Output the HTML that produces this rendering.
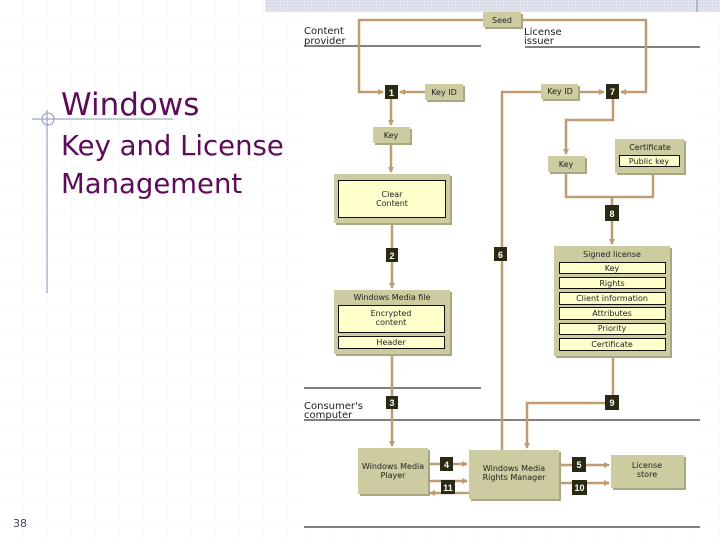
<!DOCTYPE html>
<html><head><meta charset="utf-8"><style>
html,body{margin:0;padding:0;background:#fff;}
svg{display:block;}
.t{font-family:"DejaVu Sans","Liberation Sans",sans-serif;font-size:8px;fill:#222;text-anchor:middle;}
.n{font-family:"Liberation Sans",sans-serif;font-size:9px;font-weight:bold;fill:#fff;text-anchor:middle;}
.lb{font-family:"DejaVu Sans","Liberation Sans",sans-serif;font-size:10px;fill:#222;}
.ln{stroke:#c09c74;stroke-width:2.5;fill:none;}
</style></head><body>
<svg width="720" height="540" viewBox="0 0 720 540" xmlns="http://www.w3.org/2000/svg">
<defs>
<pattern id="g" width="24" height="24" patternUnits="userSpaceOnUse" x="0" y="0">
<path d="M24 0V24M0 24H24" stroke="#dcdcdc" stroke-width="1" stroke-dasharray="1,2" fill="none"/>
</pattern>
<pattern id="h" width="3" height="3" patternUnits="userSpaceOnUse">
<rect width="3" height="3" fill="#dfe3ec"/><rect width="1" height="1" fill="#c4cad8"/>
</pattern>
<marker id="a" markerWidth="6" markerHeight="6" refX="5" refY="3" orient="auto" markerUnits="userSpaceOnUse"><path d="M0,0L6,3L0,6z" fill="#c09c74"/></marker>
</defs>
<rect width="720" height="540" fill="url(#g)"/>
<rect x="265" y="0" width="455" height="12" fill="url(#h)"/>
<line x1="697" y1="0" x2="697" y2="12" stroke="#8890b0"/>
<rect x="300" y="12" width="400" height="520" fill="#fff"/>

<line x1="47" y1="110" x2="47" y2="293" stroke="#8a98c0" stroke-width="1"/>
<line x1="32" y1="119" x2="173" y2="119" stroke="#8a98c0" stroke-width="1"/>
<circle cx="48" cy="119" r="6" fill="none" stroke="#8a98c0"/>
<text x="61" y="115" font-family="DejaVu Sans,Liberation Sans,sans-serif" font-size="31" fill="#5c0c58">Windows</text>
<text x="61" y="155" font-family="DejaVu Sans,Liberation Sans,sans-serif" font-size="27.5" fill="#5c0c58">Key and License</text>
<text x="61" y="193" font-family="DejaVu Sans,Liberation Sans,sans-serif" font-size="27.5" fill="#5c0c58">Management</text>
<text x="13" y="527" font-family="DejaVu Sans,sans-serif" font-size="11" fill="#445">38</text>

<line x1="304" y1="46" x2="481" y2="46" stroke="#000"/>
<line x1="525" y1="47" x2="700" y2="47" stroke="#000"/>
<line x1="304" y1="388" x2="481" y2="388" stroke="#000"/>
<line x1="304" y1="420" x2="700" y2="420" stroke="#000"/>
<line x1="304" y1="527" x2="700" y2="527" stroke="#000"/>
<text class="lb" x="304" y="34">Content</text><text class="lb" x="304" y="44">provider</text>
<text class="lb" x="524" y="35">License</text><text class="lb" x="524" y="44" font-size="8">issuer</text>
<text class="lb" x="304" y="409">Consumer's</text><text class="lb" x="304" y="418">computer</text>

<polyline class="ln" points="483,20 359,20 359,92 383,92" marker-end="url(#a)"/>
<line class="ln" x1="425" y1="92" x2="400" y2="92" marker-end="url(#a)"/>
<polyline class="ln" points="521,20 646,20 646,92 621,92" marker-end="url(#a)"/>
<line class="ln" x1="578" y1="92" x2="604" y2="92" marker-end="url(#a)"/>
<polyline class="ln" points="541,92 502,92 502,450"/>
<line class="ln" x1="391" y1="99" x2="391" y2="125" marker-end="url(#a)"/>
<line class="ln" x1="391" y1="143" x2="391" y2="172" marker-end="url(#a)"/>
<polyline class="ln" points="613,99 613,120 566,120 566,154" marker-end="url(#a)"/>
<polyline class="ln" points="566,172 566,197 653,197 653,173"/>
<line class="ln" x1="612" y1="197" x2="612" y2="244" marker-end="url(#a)"/>
<line class="ln" x1="392" y1="223" x2="392" y2="288" marker-end="url(#a)"/>
<line class="ln" x1="392" y1="354" x2="392" y2="446" marker-end="url(#a)"/>
<polyline class="ln" points="613,356 613,403 527,403 527,448" marker-end="url(#a)"/>
<line class="ln" x1="428" y1="464" x2="467" y2="464" marker-end="url(#a)"/>
<line class="ln" x1="428" y1="481" x2="467" y2="481" marker-end="url(#a)"/>
<line class="ln" x1="469" y1="493" x2="430" y2="493" marker-end="url(#a)"/>
<line class="ln" x1="559" y1="465" x2="609" y2="465" marker-end="url(#a)"/>
<line class="ln" x1="559" y1="483" x2="609" y2="483" marker-end="url(#a)"/>

<g fill="#a9a682">
<rect x="485" y="14" width="38" height="15"/><rect x="427" y="86" width="38" height="16"/>
<rect x="543" y="86" width="37" height="15"/><rect x="375" y="129" width="37" height="16"/>
<rect x="336" y="176" width="116" height="49"/><rect x="550" y="158" width="37" height="16"/>
<rect x="617" y="141" width="69" height="34"/><rect x="556" y="248" width="116" height="110"/>
<rect x="336" y="292" width="116" height="64"/><rect x="360" y="450" width="70" height="46"/>
<rect x="471" y="452" width="90" height="49"/><rect x="613" y="457" width="73" height="33"/>
</g>
<g fill="#cdcba0">
<rect x="483" y="12" width="38" height="15"/><rect x="425" y="84" width="38" height="16"/>
<rect x="541" y="84" width="37" height="15"/><rect x="373" y="127" width="37" height="16"/>
<rect x="334" y="174" width="116" height="49"/><rect x="548" y="156" width="37" height="16"/>
<rect x="615" y="139" width="69" height="34"/><rect x="554" y="246" width="116" height="110"/>
<rect x="334" y="290" width="116" height="64"/><rect x="358" y="448" width="70" height="46"/>
<rect x="469" y="450" width="90" height="49"/><rect x="611" y="455" width="73" height="33"/>
</g>
<g fill="#ffffcc" stroke="#111" stroke-width="1">
<rect x="338.5" y="180.5" width="107" height="37"/>
<rect x="619.5" y="155.5" width="60" height="11"/>
<rect x="338.5" y="305.5" width="106" height="27"/>
<rect x="338.5" y="336.5" width="106" height="12"/>
<rect x="559.5" y="262.5" width="106" height="11"/>
<rect x="559.5" y="277.5" width="106" height="11"/>
<rect x="559.5" y="292.5" width="106" height="12"/>
<rect x="559.5" y="307.5" width="106" height="12"/>
<rect x="559.5" y="323.5" width="106" height="11"/>
<rect x="559.5" y="338.5" width="106" height="12"/>
</g>
<g class="t">
<text x="502" y="23">Seed</text>
<text x="444" y="95">Key ID</text>
<text x="560" y="94">Key ID</text>
<text x="391" y="138">Key</text>
<text x="392" y="197">Clear</text><text x="392" y="206">Content</text>
<text x="566" y="167">Key</text>
<text x="650" y="150">Certificate</text>
<text x="649" y="164">Public key</text>
<text x="612" y="257">Signed license</text>
<text x="612" y="271">Key</text>
<text x="612" y="286">Rights</text>
<text x="612" y="301">Client information</text>
<text x="612" y="316">Attributes</text>
<text x="612" y="331">Priority</text>
<text x="612" y="347">Certificate</text>
<text x="392" y="300">Windows Media file</text>
<text x="391" y="316">Encrypted</text><text x="391" y="325">content</text>
<text x="391" y="345">Header</text>
<text x="393" y="469">Windows Media</text><text x="393" y="478">Player</text>
<text x="514" y="471">Windows Media</text><text x="514" y="480">Rights Manager</text>
<text x="647" y="468">License</text><text x="647" y="477">store</text>
</g>
<g fill="#2a2a12">
<rect x="385" y="85" width="13" height="14"/><rect x="606" y="84" width="13" height="15"/>
<rect x="605" y="205" width="14" height="16"/><rect x="386" y="248" width="12" height="14"/>
<rect x="494" y="247" width="13" height="14"/><rect x="386" y="396" width="12" height="13"/>
<rect x="605" y="395" width="14" height="15"/><rect x="440" y="457" width="13" height="14"/>
<rect x="441" y="480" width="14" height="14"/><rect x="572" y="457" width="14" height="15"/>
<rect x="572" y="480" width="15" height="15"/>
</g>
<g class="n">
<text x="391.5" y="96">1</text><text x="612.5" y="95">7</text><text x="612" y="217">8</text>
<text x="392" y="259">2</text><text x="500.5" y="258">6</text><text x="392" y="406">3</text>
<text x="612" y="406">9</text><text x="446.5" y="468">4</text><text x="448" y="491">11</text>
<text x="579" y="468">5</text><text x="579.5" y="491">10</text>
</g>
</svg>
</body></html>
